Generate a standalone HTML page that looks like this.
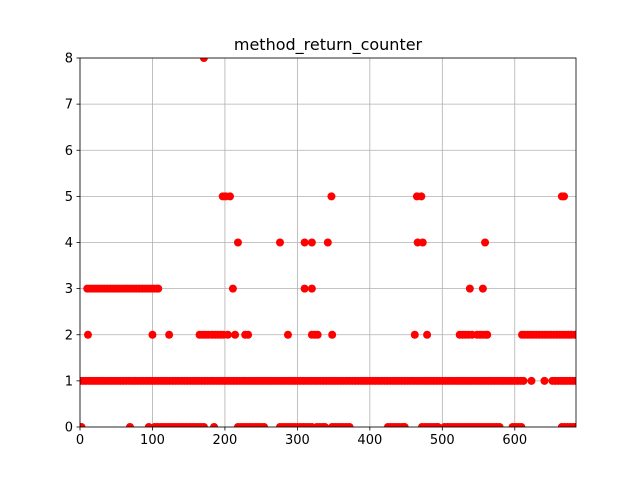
<!DOCTYPE html>
<html><head><meta charset="utf-8"><style>
html,body{margin:0;padding:0;background:#fff;}
svg{display:block;font-family:"DejaVu Sans","Liberation Sans",sans-serif;}
</style></head><body>
<svg id="chart" width="640" height="480"></svg>
<script>
const xTicks=[0,100,200,300,400,500,600];
const yTicks=[0,1,2,3,4,5,6,7,8];
const xsLevel0=[0,2,69,95,103,107,111,115,119,123,127,131,135,139,143,147,151,155,159,163,167,171,185,218,222,226,230,234,238,242,246,250,254,276,280,284,288,292,296,300,304,308,312,316,320,327,331,335,338,348,352,356,360,364,368,372,425,429,433,437,441,445,448,472,476,480,484,488,492,494,503,507,511,515,519,523,527,531,535,539,543,547,551,555,559,563,567,571,575,579,597,601,605,609,665,669,673,677,681,684];
const xsLevel1=[0,4,8,12,16,20,24,28,32,36,40,44,48,52,56,60,64,68,72,76,80,84,88,92,96,100,104,108,112,116,120,124,128,132,136,140,144,148,152,156,160,164,168,172,176,180,184,188,192,196,200,204,208,212,216,220,224,228,232,236,240,244,248,252,256,260,264,268,272,276,280,284,288,292,296,300,304,308,312,316,320,324,328,332,336,340,344,348,352,356,360,364,368,372,376,380,384,388,392,396,400,404,408,412,416,420,424,428,432,436,440,444,448,452,456,460,464,468,472,476,480,484,488,492,496,500,504,508,512,516,520,524,528,532,536,540,544,548,552,556,560,564,568,572,576,580,584,588,592,596,600,604,608,612,623,641,652,656,660,664,668,672,676,680,684];
const xsLevel2=[11,100,123,165,169,173,177,182,186,190,194,198,204,214,228,232,287,320,324,328,348,462,479,524,528,532,536,541,548,552,556,560,562,610,614,618,622,626,630,634,638,642,646,650,654,658,662,666,670,674,678,683];
const xsLevel3=[10,14,18,22,26,30,34,38,42,46,50,54,58,62,66,70,74,78,82,86,90,94,98,102,106,108,211,310,320,538,556];
const xsLevel4=[218,276,310,320,342,466,473,559];
const xsLevel5=[197,201,207,347,465,471,665,668];
const xsLevel8=[171];
const levels=[[0,xsLevel0],[1,xsLevel1],[2,xsLevel2],[3,xsLevel3],[4,xsLevel4],[5,xsLevel5],[8,xsLevel8]];

const NS="http://www.w3.org/2000/svg";
const svg=document.getElementById('chart');
const L=80,R=576,T=58,B=427,XMAX=684.5,YMAX=8;
const sx=v=>L+v/XMAX*(R-L);
const sy=v=>B-v/YMAX*(B-T);
function mk(tag,attrs){const e=document.createElementNS(NS,tag);for(const k in attrs)e.setAttribute(k,attrs[k]);svg.appendChild(e);return e;}

// grid
xTicks.forEach(t=>{const g=mk('line',{x1:sx(t),x2:sx(t),y1:T,y2:B,stroke:'#b0b0b0','stroke-width':0.8});

});
yTicks.forEach(t=>{const g=mk('line',{x1:L,x2:R,y1:sy(t),y2:sy(t),stroke:'#b0b0b0','stroke-width':0.8});

});

// points
const clip=mk('clipPath',{id:'cp'});
const cr=document.createElementNS(NS,'rect');cr.setAttribute('x',L);cr.setAttribute('y',T);cr.setAttribute('width',R-L);cr.setAttribute('height',B-T);clip.appendChild(cr);
const pg=mk('g',{'clip-path':'url(#cp)'});


levels.forEach(([y,xs])=>{xs.forEach(x=>{
  const c=document.createElementNS(NS,'circle');
  c.setAttribute('cx',sx(x));c.setAttribute('cy',sy(y));c.setAttribute('r',4);c.setAttribute('fill','#ff0000');
  
  
  pg.appendChild(c);});});

// frame
const fr=mk('rect',{x:L,y:T,width:R-L,height:B-T,fill:'none',stroke:'#000','stroke-width':0.8});



// ticks + labels
xTicks.forEach(t=>{mk('line',{x1:sx(t),x2:sx(t),y1:B,y2:B+3.5,stroke:'#000','stroke-width':0.8});
const tx=mk('text',{x:sx(t),y:B+17,'text-anchor':'middle','font-size':13,fill:'#000'});tx.textContent=t;

});
yTicks.forEach(t=>{mk('line',{x1:L-3.5,x2:L,y1:sy(t),y2:sy(t),stroke:'#000','stroke-width':0.8});
const tx=mk('text',{x:L-7,y:sy(t)+4.5,'text-anchor':'end','font-size':13,fill:'#000'});tx.textContent=t;

});

const title=mk('text',{x:(L+R)/2,y:50,'text-anchor':'middle','font-size':16,fill:'#000'});
title.textContent='method_return_counter';


</script>
</body></html>
